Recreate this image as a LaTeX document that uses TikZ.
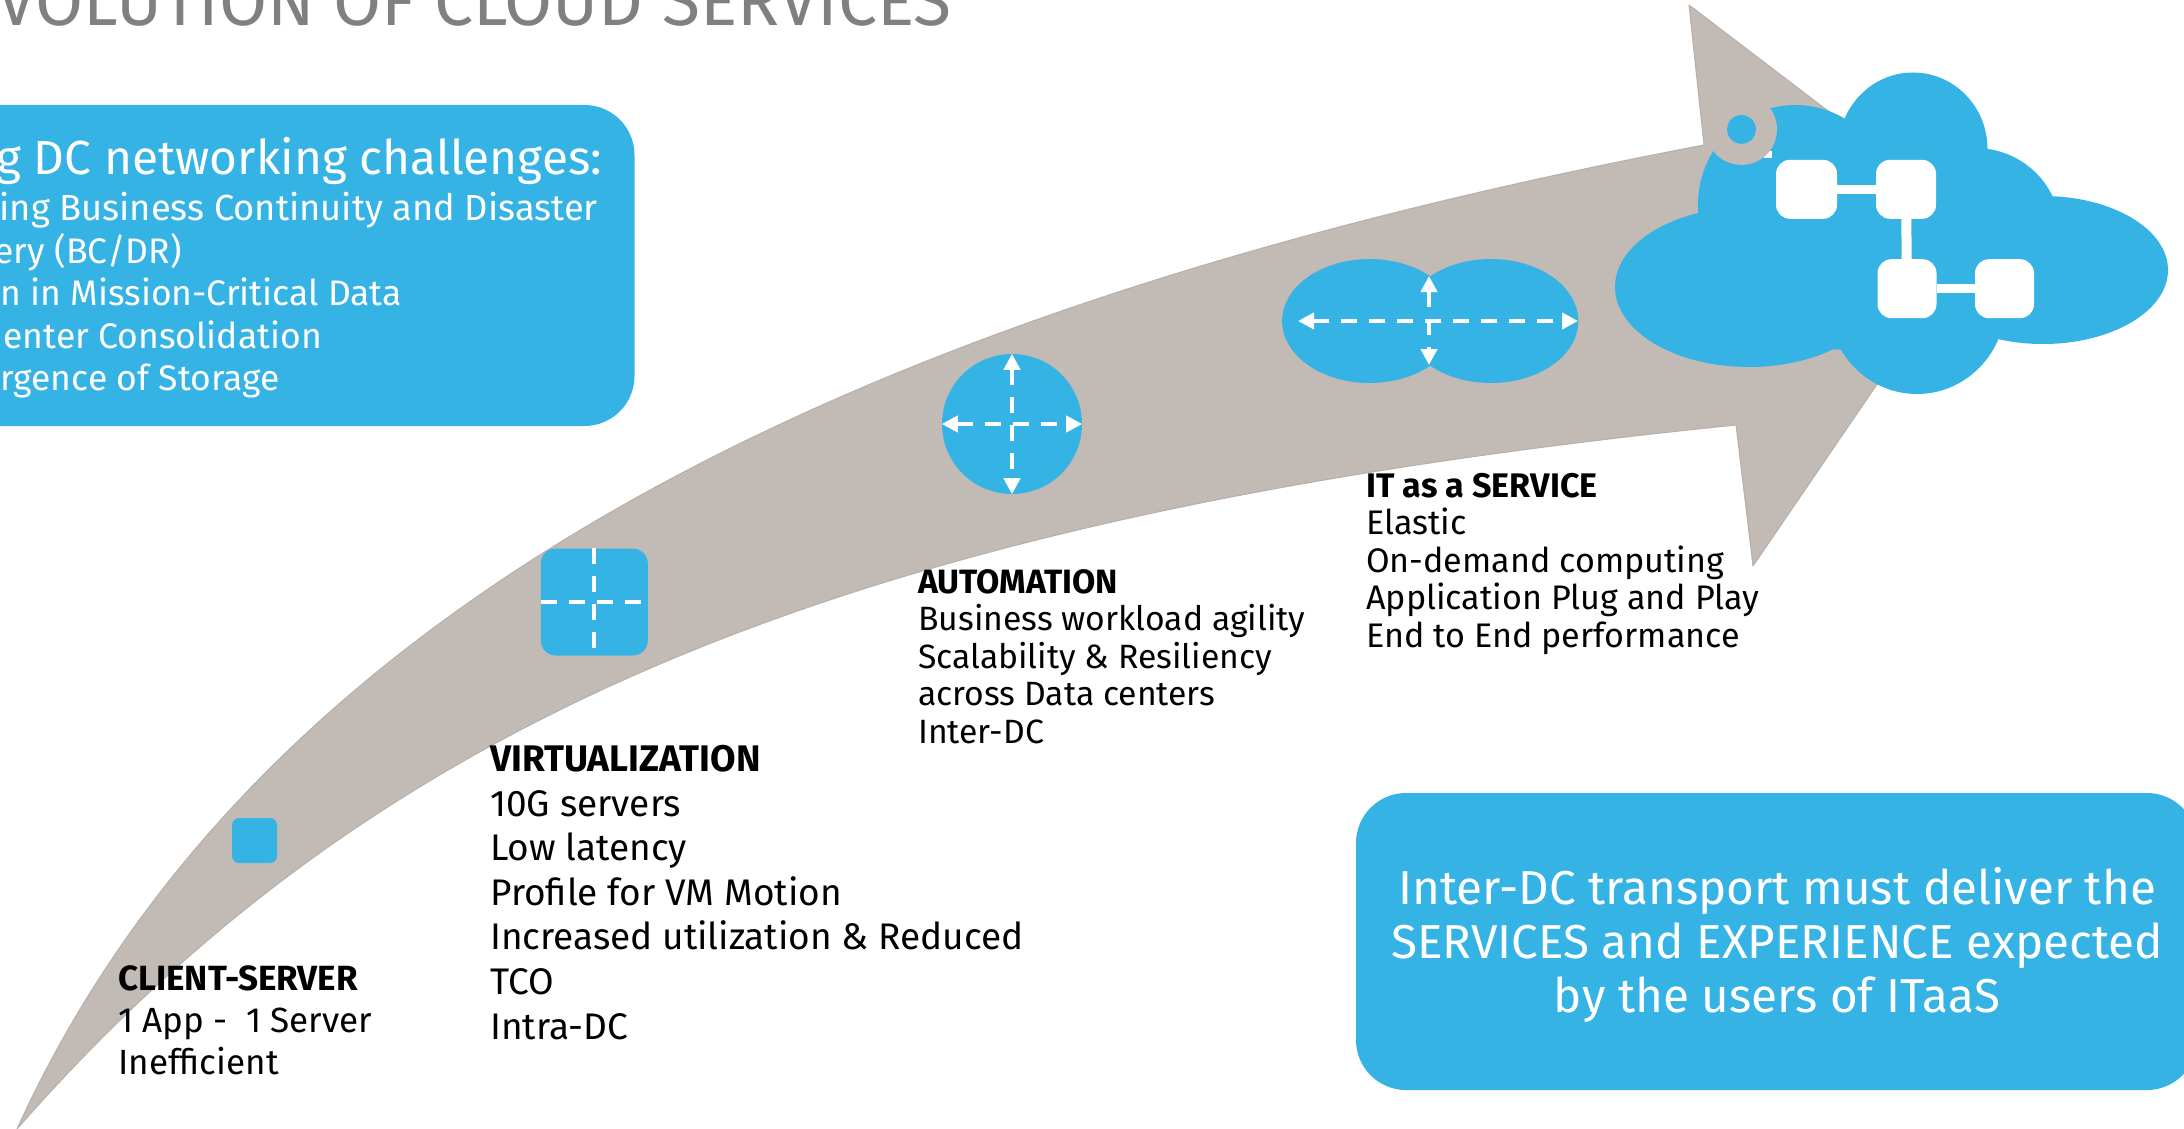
\documentclass[tikz,border=0pt]{standalone}
\usepackage{fontspec}
\setmainfont{Fira Sans}
\usepackage{xcolor}
\usepackage{tikz}
\usetikzlibrary{positioning, shapes.geometric, calc, arrows.meta}
\definecolor{ccBlue}{RGB}{53, 179, 229}
\definecolor{ccTaupe}{RGB}{194, 186, 181}
\definecolor{ccEdge}{RGB}{184, 175, 170}
\definecolor{ccGray}{RGB}{128, 128, 128}
\tikzset{
    panel/.style={
        rectangle,
        rounded corners=50pt,
        fill=ccBlue,
        inner sep=0pt
    },
    chip/.style={
        rectangle,
        rounded corners=14pt,
        fill=white,
        inner sep=0pt,
        minimum width=59pt,
        minimum height=59pt
    },
    link/.style={
        draw=white,
        line width=9pt
    },
    bubble/.style={
        ellipse,
        fill=ccBlue,
        inner sep=0pt
    },
    dashcross/.style={
        draw=white,
        line width=4pt,
        dash pattern=on 16pt off 12pt
    },
    duplex/.style={
        dashcross,
        line width=4.5pt,
        {Triangle[length=16pt, width=16pt]}-{Triangle[length=16pt, width=16pt]}
    },
    stage/.style={
        anchor=north west,
        align=left,
        inner sep=0pt,
        text=black
    },
    panelline/.style={
        anchor=base east,
        inner sep=0pt,
        text=white,
        font=\fontsize{35.5}{40}\selectfont
    }
}
\begin{document}
\begin{tikzpicture}[x=1pt, y=-1pt]
  \useasboundingbox (0,0) rectangle (2184,1129);

  % Title
  \node[anchor=base west, inner sep=0pt, text=ccGray, font=\fontsize{69.6}{80}\selectfont] (title) at (-3,26) {VOLUTION OF CLOUD SERVICES};

  % Arrow
  \filldraw[fill=ccTaupe, draw=ccEdge, line width=1pt, line join=round]
    (17,1129) .. controls (267,579) and (904,297) .. (1704,145)
    -- (1689,5) -- (1983,229) -- (1753,566) -- (1736,425)
    .. controls (850,515) and (380,715) .. (17,1129)
    -- cycle;

  % Left panel
  \node[panel, minimum width=735pt, minimum height=321pt] (challenges) at (267,265.5) {};
  \node[panelline, font=\fontsize{47.8}{50}\selectfont] (lineA) at (602,175) {g DC networking challenges:};
  \node[panelline, font=\fontsize{36.3}{40}\selectfont] (lineB) at (598,220) {ing Business Continuity and Disaster};
  \node[panelline] (lineC) at (182,263) {ery (BC/DR)};
  \node[panelline] (lineD) at (402,305) {n in Mission-Critical Data};
  \node[panelline] (lineE) at (322,348) {enter Consolidation};
  \node[panelline] (lineF) at (280,390) {rgence of Storage};

  % Right panel
  \node[panel, minimum width=841pt, minimum height=297pt] (itaas) at (1776.5,941.5) {};
  \node[anchor=base, align=center, inner sep=0pt, text=white, font=\fontsize{47.6}{54.3}\selectfont] (itaasText) at (1777,1012.7) {Inter-DC transport must deliver the\\SERVICES and EXPERIENCE expected\\by the users of ITaaS};

  % Client-server
  \node[rectangle, rounded corners=7pt, fill=ccBlue, minimum width=45pt, minimum height=45pt, inner sep=0pt] (server) at (254.5,840.5) {};
  \node[stage, font=\fontsize{35}{42}\selectfont] (clientText) at (118,965) {\textbf{CLIENT-SERVER}\\1 App -\ \ 1 Server\\Inefficient};

  % Virtualization
  \node[rectangle, rounded corners=15pt, fill=ccBlue, minimum width=107pt, minimum height=107pt, inner sep=0pt] (virtual) at (594.3,602) {};
  \draw[dashcross] (virtual.north) -- (virtual.south);
  \draw[dashcross] (virtual.west) -- (virtual.east);
  \node[stage, font=\fontsize{37}{44.6}\selectfont] (virtualText) at (490,745) {\textbf{VIRTUALIZATION}\\10G servers\\Low latency\\Profile for VM Motion\\Increased utilization \& Reduced\\TCO\\Intra-DC};

  % Automation
  \node[bubble, minimum width=140pt, minimum height=140pt] (automation) at (1012,424) {};
  \draw[duplex] (automation.north) -- (automation.south);
  \draw[duplex] (automation.west) -- (automation.east);
  \node[stage, font=\fontsize{33.7}{37.5}\selectfont] (automationText) at (918,569) {\textbf{AUTOMATION}\\Business workload agility\\Scalability \& Resiliency\\across Data centers\\Inter-DC};

  % IT as a service
  \node[bubble, minimum width=175pt, minimum height=124pt] (poolA) at (1369.6,321) {};
  \node[bubble, minimum width=175pt, minimum height=124pt] (poolB) at (1490.8,321) {};
  \coordinate (poolN) at (1429,276);
  \coordinate (poolS) at (1429,365);
  \coordinate (poolW) at (1298,321);
  \coordinate (poolE) at (1578,321);
  \draw[duplex] (poolN) -- (poolS);
  \draw[duplex] (poolW) -- (poolE);
  \node[stage, font=\fontsize{34.1}{37.5}\selectfont] (serviceText) at (1366,473) {\textbf{IT as a SERVICE}\\Elastic\\On-demand computing\\Application Plug and Play\\End to End performance};

  % Cloud
  \fill[ccBlue] (1749,287) ellipse [x radius=134, y radius=80];
  \fill[ccBlue] (2043,270) ellipse [x radius=125, y radius=74];
  \fill[ccBlue] (1913,149) ellipse [x radius=74.5, y radius=76.5];
  \fill[ccBlue] (1975,230) ellipse [x radius=85, y radius=82];
  \fill[ccBlue] (1795.5,205) ellipse [x radius=97.6, y radius=100];
  \fill[ccBlue] (1917,302) ellipse [x radius=89, y radius=92];
  \fill[ccBlue] (1850,270) ellipse [x radius=120, y radius=80];
  \fill[white] (1764,151) rectangle (1772,158);
  \fill[ccTaupe] (1741.5,129.4) circle [radius=35.5];
  \fill[ccBlue] (1741.5,129.4) circle [radius=14.4];

  % Chips
  \node[chip, minimum width=61pt] (chipA) at (1806.5,189.3) {};
  \node[chip, minimum width=60pt] (chipB) at (1906,189.3) {};
  \node[chip, minimum width=59pt] (chipC) at (1907,288.7) {};
  \node[chip, minimum width=59pt] (chipD) at (2004.5,288.7) {};
  \draw[link] (chipA) -- (chipB);
  \draw[link, line width=10pt] (chipB) -- (chipC);
  \draw[link] (chipC) -- (chipD);
\end{tikzpicture}
\end{document}
